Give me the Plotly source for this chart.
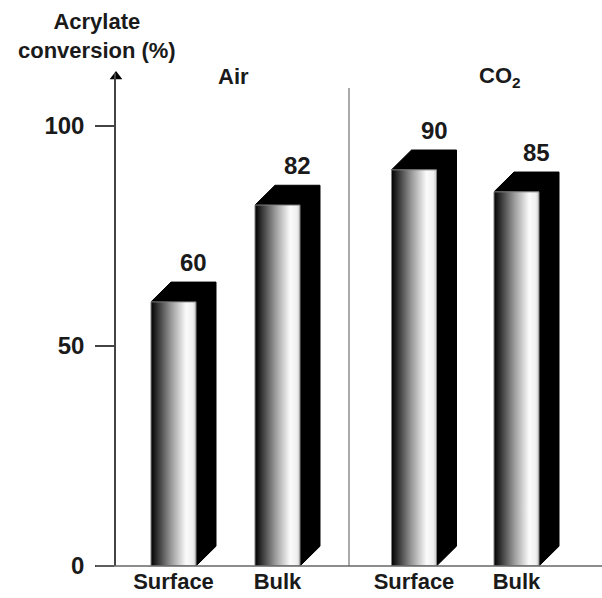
import plotly.graph_objects as go

# ---- data ----
groups = ["Air", "CO<sub>2</sub>"]
categories = ["Surface", "Bulk", "Surface", "Bulk"]
values = [60, 82, 90, 85]
value_labels = ["60", "82", "90", "85"]
y_ticks = [0, 50, 100]
y_axis_title = "Acrylate<br>conversion (%)"

# ---- layout helpers (positions on a numeric x axis) ----
x_pos = [0.575, 1.615, 2.98, 4.005]
group_pos = [1.17, 3.84]
separator_x = 2.33
bar_w = 0.45
dx = 0.20   # 3D depth (x units)
dy = 4.5    # 3D depth (y units)

FONT = "Liberation Sans"
TXT = "#1a1a1a"

fig = go.Figure()

for xc, v in zip(x_pos, values):
    x0 = xc - bar_w / 2
    x1 = xc + bar_w / 2
    # black extrusion (top + side)
    fig.add_trace(go.Scatter(
        x=[x0, x0 + dx, x1 + dx, x1 + dx, x1, x1, x0],
        y=[v, v + dy, v + dy, dy, 0, v, v],
        fill="toself", fillcolor="black", mode="lines",
        line=dict(color="black", width=1),
        hoverinfo="skip", showlegend=False))
    # gradient front face
    fig.add_trace(go.Scatter(
        x=[x0, x1, x1, x0, x0],
        y=[0, 0, v, v, 0],
        fill="toself", mode="lines",
        fillgradient=dict(type="horizontal",
                          colorscale=[[0, "#000000"], [0.12, "#2a2a2a"],
                                      [0.45, "#9a9a9a"], [0.78, "#fbfbfb"],
                                      [0.93, "#f0f0f0"], [1, "#c8c8c8"]]),
        line=dict(color="#808080", width=1),
        hoverinfo="skip", showlegend=False))

# arrow head on the y axis
fig.add_trace(go.Scatter(
    x=[0], y=[111.2], mode="markers", cliponaxis=False,
    marker=dict(symbol="triangle-up", size=11, color="black"),
    hoverinfo="skip", showlegend=False))

annotations = []
for xc, v, lab in zip(x_pos, values, value_labels):
    annotations.append(dict(
        x=xc + dx, y=v + dy, xref="x", yref="y", text=lab,
        showarrow=False, yanchor="bottom", xanchor="center", yshift=4,
        font=dict(family=FONT, size=24, color=TXT, weight="bold")))
for gx, g in zip(group_pos, groups):
    annotations.append(dict(
        x=gx, y=111.1, xref="x", yref="y", text=g, showarrow=False,
        xanchor="center", yanchor="middle",
        font=dict(family=FONT, size=22, color=TXT, weight="bold")))
annotations.append(dict(
    x=-0.039, y=1.0755, xref="paper", yref="paper", text=y_axis_title,
    showarrow=False, xanchor="center", yanchor="middle", align="center",
    font=dict(family=FONT, size=22, color=TXT, weight="bold")))

shapes = [
    dict(type="line", xref="x", yref="y", x0=separator_x, x1=separator_x,
         y0=0, y1=108.6, line=dict(color="#555555", width=1)),
    dict(type="line", xref="paper", yref="paper", x0=-20 / 486, x1=1,
         y0=0, y1=0, line=dict(color="#666666", width=1.5)),
]

fig.update_layout(
    width=602, height=598,
    margin=dict(l=116, r=0, t=73, b=32),
    paper_bgcolor="white", plot_bgcolor="white",
    showlegend=False,
    annotations=annotations, shapes=shapes,
    xaxis=dict(range=[0, 4.86], tickvals=x_pos, ticktext=categories,
               showgrid=False, zeroline=False, showline=False, ticks="",
               tickfont=dict(family=FONT, size=22, color=TXT, weight="bold"),
               fixedrange=True),
    yaxis=dict(range=[0, 112], tickvals=y_ticks, showgrid=False,
               zeroline=False, showline=True, linecolor="#444444",
               linewidth=1.5, ticks="outside", ticklen=19,
               tickcolor="#444444", tickwidth=1.5, ticklabelstandoff=6,
               tickfont=dict(family=FONT, size=24, color=TXT, weight="bold"),
               fixedrange=True),
)

fig.write_html("out.html")
